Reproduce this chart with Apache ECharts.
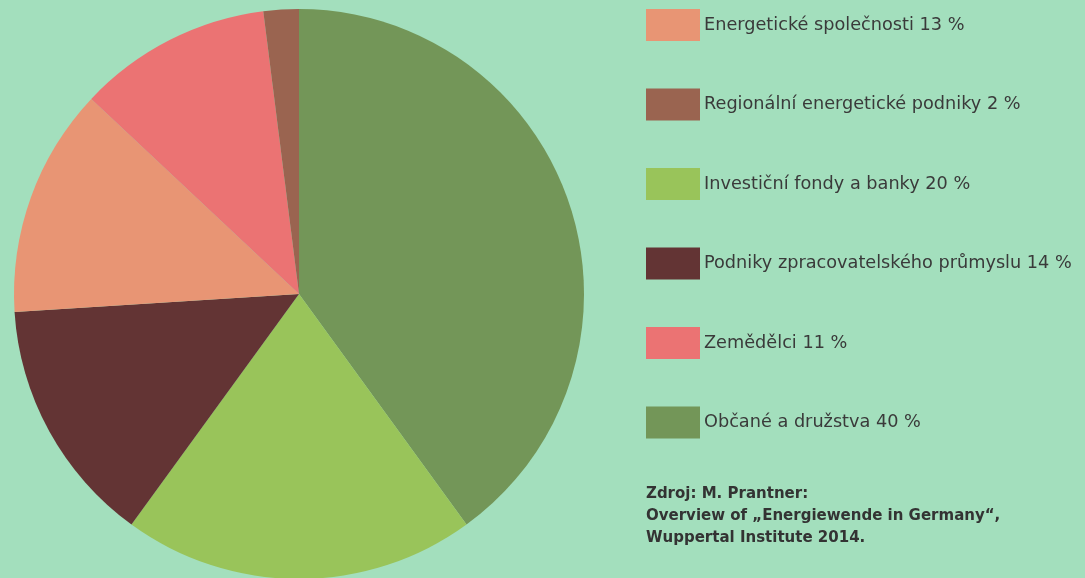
<!DOCTYPE html>
<html>
<head>
<meta charset="utf-8">
<script src="https://cdn.jsdelivr.net/npm/echarts@6/dist/echarts.min.js"></script>
<style>
    html, body { margin: 0; padding: 0; background: #a3dfbd; }
    #chart { width: 1085px; height: 578px; }
</style>
</head>
<body>
<div id="chart"></div>
<script>
// slices in drawing order (clockwise from 12 o'clock)
var sliceNames = ['Občané a družstva', 'Investiční fondy a banky', 'Podniky zpracovatelského průmyslu',
    'Energetické společnosti', 'Zemědělci', 'Regionální energetické podniky'];
var sliceValues = [40, 20, 14, 13, 11, 2];
var sliceColors = ['#739658', '#99c45a', '#633434', '#e89574', '#eb7373', '#9a6450'];

// legend order as in the picture
var legendOrder = ['Energetické společnosti', 'Regionální energetické podniky', 'Investiční fondy a banky',
    'Podniky zpracovatelského průmyslu', 'Zemědělci', 'Občané a družstva'];

var sourceLines = ['Zdroj: M. Prantner:', 'Overview of „Energiewende in Germany“,', 'Wuppertal Institute 2014.'];

var chart = echarts.init(document.getElementById('chart'));

var pieData = [];
for (let i = 0; i < sliceNames.length; i++) {
    pieData.push({name: sliceNames[i], value: sliceValues[i], itemStyle: {color: sliceColors[i]}});
}

var option = {
    backgroundColor: '#a3dfbd',
    animation: false,
    legend: {
        data: legendOrder,
        orient: 'vertical',
        left: 646,
        top: 9,
        padding: 0,
        icon: 'rect',
        itemWidth: 54,
        itemHeight: 32,
        itemGap: 47.5,
        selectedMode: false,
        formatter: function (name) {
            var idx = sliceNames.indexOf(name);
            return name + ' ' + sliceValues[idx] + ' %';
        },
        textStyle: {
            color: '#3a3a3a',
            fontFamily: 'DejaVu Sans',
            fontSize: 17.7,
            padding: [0, 0, 0, -1]
        }
    },
    graphic: [{
        type: 'text',
        left: 646,
        top: 483,
        style: {
            text: sourceLines.join('\n'),
            fill: '#333333',
            font: 'bold 15px "DejaVu Sans"',
            lineHeight: 22
        }
    }],
    series: [{
        type: 'pie',
        center: [299, 294],
        radius: 285,
        startAngle: 90,
        clockwise: true,
        label: {show: false},
        labelLine: {show: false},
        emphasis: {disabled: true},
        data: pieData
    }]
};

chart.setOption(option);
</script>
</body>
</html>
